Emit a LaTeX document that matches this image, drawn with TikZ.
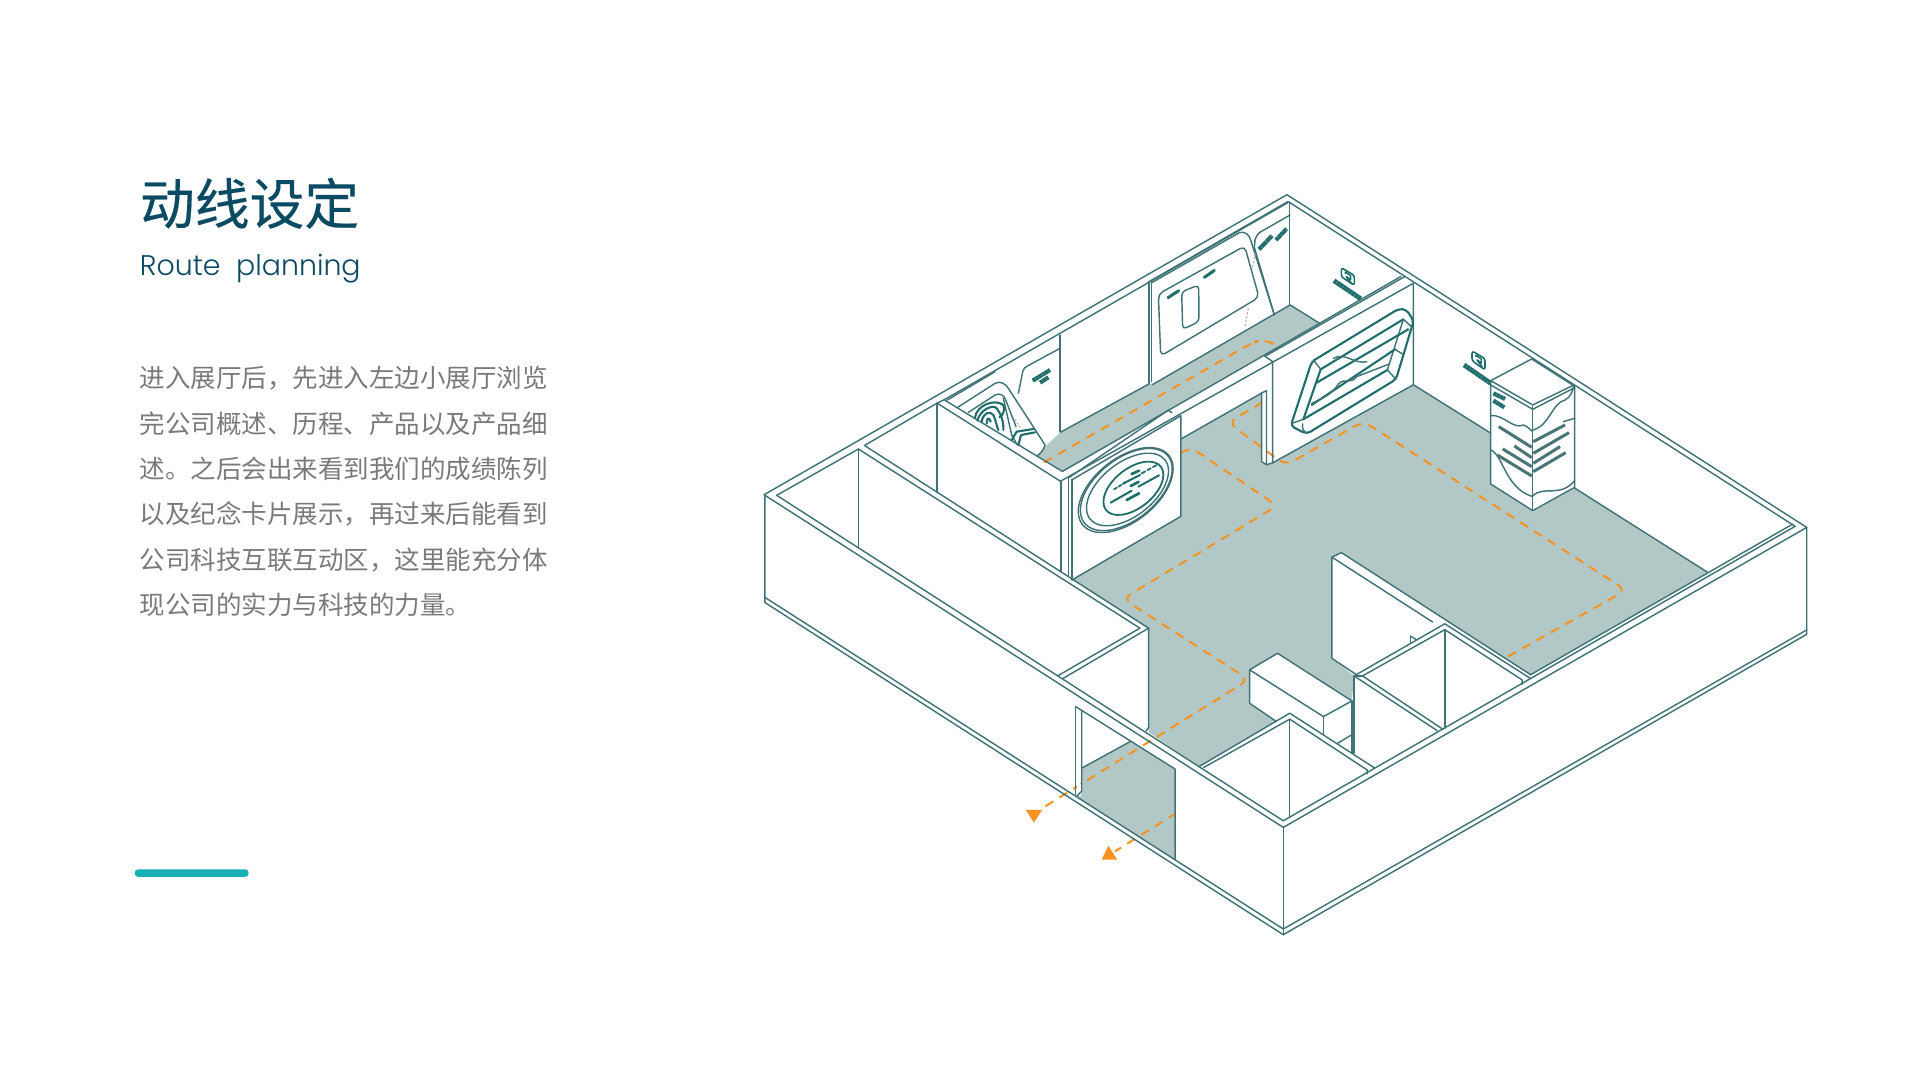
\documentclass[tikz,border=0pt]{standalone}
\usepackage{fontspec}
\setmainfont{Liberation Sans}
\newfontfamily\cjk{Noto Sans CJK SC}
\newfontfamily\cjkb[FakeBold=0.35]{Noto Sans CJK SC}
\newfontfamily\latn{Poppins Light}
\definecolor{wallc}{HTML}{3F7376}
\definecolor{markc}{HTML}{1F6E6C}
\definecolor{floorc}{HTML}{B2C8C7}
\definecolor{routec}{HTML}{F7931E}
\definecolor{titlec}{HTML}{0B4A63}
\definecolor{bodyc}{HTML}{7A7A7A}
\definecolor{barc}{HTML}{17B1B3}
\tikzset{
 wall/.style={draw=wallc,line width=.72pt,line join=round,line cap=round},
 heavy/.style={draw=markc,line width=1.05pt,line join=round,line cap=round},
 blob/.style={draw=markc,line width=2.1pt,dash pattern=on 1.6pt off .22pt},
 bar/.style={draw=markc,line width=1.5pt,line cap=round},
 chev/.style={draw=wallc!85!gray,line width=1.5pt},
 dots/.style={draw=gray!70,line width=.5pt,dash pattern=on 1pt off 1pt},
 floorp/.style={fill=floorc,draw=none},
 route/.style={draw=routec,line width=1pt,dash pattern=on 4.6pt off 3.6pt,rounded corners=4.5pt},
 tip/.style={fill=routec,draw=none},
 bodyline/.style={anchor=west,inner sep=0pt,text=bodyc,font=\cjk\fontsize{12.75}{13}\selectfont},
}
\begin{document}
\begin{tikzpicture}[x=.61224pt,y=-.61224pt]
\useasboundingbox (0,0) rectangle (1568,888.5);
\fill[white] (0,0) rectangle (1568,888.5);
% ---- text
\node[anchor=west,inner sep=0pt,text=titlec,font=\cjkb\fontsize{27.4}{28}\selectfont] (title) at (114,166) {动线设定};
\node[anchor=west,inner sep=0pt,text=titlec,font=\latn\fontsize{14.2}{16}\selectfont] (subtitle) at (114,219.5) {Route\ \ planning};
\node[bodyline] (l1) at (114,309) {进入展厅后，先进入左边小展厅浏览};
\node[bodyline] (l2) at (114,346) {完公司概述、历程、产品以及产品细};
\node[bodyline] (l3) at (114,383) {述。之后会出来看到我们的成绩陈列};
\node[bodyline] (l4) at (114,420) {以及纪念卡片展示，再过来后能看到};
\node[bodyline] (l5) at (114,457) {公司科技互联互动区，这里能充分体};
\node[bodyline] (l6) at (114,494) {现公司的实力与科技的力量。};
\fill[barc,rounded corners=1.6pt] (110,710) rectangle (203,716);
% ---- floors
\path[floorp] (964.3,358.6)--(1030.3,321)--(1030.3,378)--(1034.3,379.5)--(1039.3,378)--(1154.3,314.2)--(1217.4,353.7)--(1217.4,395.8)--(1251.8,417.6)--(1286,398.6)--(1394.6,467.4)--(1250,551)--(1095.5,451.3)--(1087.7,455)--(1087.7,537.6)--(1105.8,552)--(1104,572.4)--(1043.3,533.5)--(1020.5,547)--(1020.5,574.3)--(1042.4,589.2)--(979.3,626)--(938,598)--(938,513)--(875.5,473.6)--(964.3,421.7)--cycle;
\path[floorp] (883.4,627.3)--(923,605.6)--(959.6,628)--(959.6,702)--(879.3,650.4)--(883.4,648)--cycle;
\path[floorp] (846.6,372.4)--(853.4,364.8)--(866,353)--(938.6,313.4)--(941,314.2)--(1053.6,249)--(1077.6,264)--(867.6,385)--cycle;
% ---- route
\draw[route] (852.6,377.6)--(1021,280.8)--(1031,277)--(1044,282.4);
\draw[route] (1231.4,536.2)--(1328,482)--(1113.5,344)--(1050,380)--(1003,345)--(1030.3,329);
\draw[route] (964.3,370)--(972,365)--(1043,413)--(917,489)--(1020,555)--(851.2,660);
\draw[route,dash phase=1pt] (959.6,664.6)--(910.5,695.3);
\fill[white] (879.2,640) rectangle (883,650);
\path[tip] (837.7,661.3)--(851.2,661.3)--(844.3,671.7)--cycle;
\path[tip] (905.2,690.7)--(899.6,702.1)--(912.4,702.1)--cycle;
% ---- shell
\draw[wall] (624,404)--(1051,159)--(1475.5,430.7)--(1048,675.7)--cycle;
\draw[wall] (624.6,404)--(624.6,492)--(1048,763.3)--(1475.5,518)--(1475.5,430.7);
\draw[wall] (624.6,487.8)--(1048,758.7)--(1475.5,514.4);
\draw[wall] (1048,675.7)--(1048,763.3);
\draw[wall] (634.3,404.5)--(701,366.7);
\draw[wall] (634.3,404.5)--(1048,670.3)--(1466,429.8)--(1052.6,165)--(771,326.5);
\draw[wall] (1250,551)--(1464,428);
% ---- left chamber partition
\draw[wall] (701,366.7)--(701,447.3);
\draw[wall] (701,366.7)--(930.9,513)--(863.7,552);
\draw[wall] (706,363.8)--(938,513)--(868.4,553.9);
\draw[wall] (706,363.8)--(765.3,329.2)--(771,326.5);
\draw[wall] (765.3,329.2)--(765.3,402);
\draw[wall] (765.3,329.2)--(866,393);
\draw[wall] (771,326.5)--(867.6,385);
\draw[wall] (938,513)--(938,594)--(936,597);
% ---- long partition
\draw[wall] (867.6,385)--(1144,225.8);
\draw[wall] (866,393)--(1154.3,231.3);
\draw[wall] (1033,291)--(1039,295);
\draw[wall] (1033,291)--(1147,226);
\draw[wall] (866.3,393)--(866.3,466.5);
\draw[wall] (872.6,390)--(872.6,470.8);
\draw[wall] (875.5,391.5)--(875.5,473.6);
\draw[wall] (873,390)--(954,335)--(957,337);
\draw[wall] (875.5,391.8)--(964.3,339.5)--(964.3,421.7)--(875.5,473.6);
\draw[wall] (964.3,358.6)--(1030.3,321)--(1034.3,319)--(1034.3,379.5);
\draw[wall] (1030.3,321)--(1030.3,377)--(1034.3,379.5)--(1039.3,378);
\draw[wall] (1039.3,295.2)--(1039.3,378)--(1154.3,314.2)--(1154.3,231.3);
\draw[wall] (1154.3,314.2)--(1217.4,353.7);
\draw[wall] (1286,398.6)--(1394.6,467.4);
% ---- back hall walls
\draw[wall] (866,353)--(938.6,313.4);
\draw[wall] (941,314.2)--(1053.6,249)--(1077.6,264);
\draw[wall] (1053.3,165)--(1053.3,249);
% ---- door
\draw[wall] (878.4,577)--(959.6,628)--(959.6,702);
\draw[wall] (878.4,577)--(878.4,650);
\draw[wall] (883.4,580)--(883.4,646)--(879.3,650.4);
\draw[wall] (883.4,627.3)--(923,605.6);
% ---- right partition and rooms
\draw[wall] (1087.7,455)--(1095.5,451.3)--(1250,551);
\draw[wall] (1087.7,455)--(1087.7,537.6)--(1108,551.2);
\draw[wall] (1087.7,455)--(1170,508);
\draw[wall] (1105.8,552)--(1179.9,509.4)--(1249.6,553.9);
\draw[wall] (1112.7,552)--(1179.9,514.2)--(1243,555.2)--(1243,559);
\draw[wall] (1105.8,552)--(1112.7,552);
\draw[wall] (1105.8,552)--(1173.6,596.6);
\draw[wall] (1112.7,552)--(1178.3,595.5);
\draw[wall] (1179.9,514.2)--(1179.9,594.5);
\draw[wall] (1105.8,552)--(1105.8,615);
\draw[wall] (1151.8,519.5)--(1151.8,525.3);
\draw[wall] (1151.8,519.5)--(1157,522.6);
% ---- front room
\draw[wall] (979.3,626)--(1053.3,582.4)--(1122.7,627.3);
\draw[wall] (983,626.8)--(1053.3,587.3)--(1116.4,628.7)--(1116.4,632);
\draw[wall] (1053.3,587.3)--(1053.3,666.8);
% ---- box
\draw[wall] (1042.4,589.2)--(1020.5,574.3)--(1020.5,547)--(1043.3,533.5)--(1104,572.4)--(1080.8,585.2)--(1020.5,547);
\draw[wall] (1080.8,585.2)--(1080.8,600);
\draw[wall] (1104,572.4)--(1104,615);
\draw[wall] (1092.4,607)--(1104,600);
% ---- oval plaque
\begin{scope}[shift={(919.3,400.2)},yslant=.45]
 \draw[wall] (0,0) ellipse (38.7 and 30);
 \draw[wall] (.5,-.2) ellipse (37.5 and 29);
 \draw[wall] (1.5,.2) ellipse (33.5 and 25.5);
 \draw[heavy,line width=.9pt] (6.3,1.4) ellipse (24.5 and 18.8);
\end{scope}
\begin{scope}[shift={(767.7,269.5)},scale=.2722]
 \draw[bar,line width=1pt] (512,518)--(575,482);
 \draw[bar,line width=1pt] (595,470)--(657,436);
 \draw[bar,line width=.9pt,dash pattern=on 1.6pt off 1pt] (522,478)--(560,455);
 \draw[bar,line width=1pt] (550,460)--(600,435);
 \draw[bar,line width=.9pt,dash pattern=on 2pt off 1.2pt] (605,430)--(650,405);
 \draw[bar,line width=1.4pt,dash pattern=on 1.2pt off .4pt] (575,432)--(597,422);
 \draw[bar,line width=1.4pt,dash pattern=on 1.2pt off .4pt] (572,468)--(597,455);
 \draw[bar,line width=1.4pt,dash pattern=on 1.2pt off .4pt] (560,510)--(597,490);
 % left hall device
 \draw[wall] (360,15)--(360,305);
 \draw[wall] (22,210)--(165,125);
 \draw[wall] (235,190)--(248,125)..controls (250,115) and (255,112)..(262,108)--(360,55);
 \draw[wall] (53,232)--(165,160)..controls (180,152) and (195,160)..(205,175)--(315,345)..controls (310,362) and (300,372)..(290,378);
 \draw[wall] (85,247)--(165,195)..controls (180,188) and (192,195)..(197,210)--(228,290);
 \draw[wall] (190,205)--(215,315)--(232,345);
 \draw[heavy] (105,262)..controls (110,225) and (165,205)..(190,225)..controls (195,240) and (190,255)..(178,262);
 \draw[heavy] (112,272)..controls (120,238) and (160,222)..(170,235)..controls (190,262) and (190,285)..(190,300);
 \draw[heavy] (125,275)..controls (128,250) and (150,240)..(160,255)..controls (168,272) and (170,290)..(175,300);
 \draw[heavy] (140,280)..controls (140,262) and (148,262)..(152,275);
 \draw[heavy] (215,330)--(230,305)--(280,297);
 \draw[heavy] (235,345)--(243,315)--(285,307);
 \draw[dots] (225,268)--(240,292);
 \draw[blob] (278,152)--(330,120);
 \draw[blob] (300,158)--(325,142);
\end{scope}
% ---- hall screen
\begin{scope}[shift={(931,155.2)},scale=.2722]
 \draw[wall] (27,275)--(27,580);
 \draw[wall] (35,275)--(35,575);
 \draw[wall] (27,275)--(443,35);
 \draw[wall] (35,278)--(298,128)..controls (315,122) and (328,135)..(332,150)--(403,375);
 \draw[wall] (345,150)..controls (350,135) and (355,128)..(368,122)--(450,75);
 \draw[wall] (345,150)--(343,172)--(403,375);
 \draw[wall,rounded corners=2.5pt] (55,312)--(314,168)--(357,322)--(62,498)--cycle;
 \draw[wall,rounded corners=2pt] (125,305)--(176,285)--(177,395)--(128,418)--cycle;
 \draw[bar] (84,323)--(116,302);
 \draw[bar] (193,262)--(223,241);
 \draw[dots] (346,190)--(336,240);
 \draw[dots] (325,355)--(314,415);
 \draw[blob] (357,178)--(396,137);
 \draw[blob] (408,150)--(440,116);
 % logo 1
 \draw[heavy,line width=.8pt,rounded corners=1.2pt] (604,233)--(643,256)--(643,286)--(604,260)--cycle;
 \draw[heavy,line width=.8pt] (616,250)--(616,246)--(632,257)--(632,269)--(619,260)--(634,280);
 \draw[blob,line width=2.4pt] (582,272)--(662,326);
\end{scope}
% ---- right frame, cabinet, logo 2
\begin{scope}[shift={(1037.2,236.8)},scale=.2722]
 \draw[heavy,rounded corners=2pt] (125,215)--(385,57)--(408,58)--(431,92)--(378,268)--(110,432)--(62,408)--cycle;
 \draw[wall] (98,402)..controls (95,415) and (100,425)..(112,430);
 \draw[heavy] (152,238)--(400,88);
 \draw[wall] (400,88)--(426,112);
 \draw[wall] (130,210)--(152,238);
 \draw[heavy] (152,238)--(100,388);
 \draw[wall] (100,388)--(66,400);
 \draw[heavy] (100,388)--(352,240);
 \draw[wall] (352,240)--(378,268);
 \draw[wall] (352,240)--(400,88);
 \draw[heavy] (140,278)--(415,118);
 \draw[heavy] (125,345)--(375,178);
 \draw[wall] (375,178)--(397,192);
 \draw[wall] (190,205)..controls (225,185) and (255,225)..(290,215);
 \draw[wall] (125,340)..controls (175,318) and (190,305)..(205,282)..controls (225,262) and (240,285)..(260,260)--(358,222);
 % logo 2
 \draw[heavy,line width=.8pt,rounded corners=1.2pt] (606,183)--(645,206)--(645,240)--(606,212)--cycle;
 \draw[heavy,line width=.8pt] (618,200)--(618,196)--(634,207)--(634,219)--(621,210)--(636,230);
 \draw[blob,line width=2.4pt] (582,225)--(662,280);
 % cabinet
 \draw[wall] (662,272)--(785,207)--(912,288);
 \draw[wall] (662,272)--(788,345)--(912,285);
 \draw[wall] (662,285)--(788,358)--(914,293);
 \draw[wall] (662,272)--(662,582)--(788,662)--(914,592)--(914,290);
 \draw[wall] (788,350)--(788,662);
 \draw[wall] (880,395)--(914,385);
 \draw[chev] (686,410)--(785,472);
 \draw[chev] (733,468)--(785,503);
 \draw[chev] (698,477)--(785,530);
 \draw[chev] (682,495)--(785,558);
 \draw[chev] (790,455)--(885,405);
 \draw[chev] (790,490)--(897,428);
 \draw[chev] (790,520)--(870,470);
 \draw[chev] (790,545)--(887,488);
 \draw[wall] (662,377)..controls (700,372) and (730,420)..(760,405)..controls (770,408) and (780,418)..(788,425);
 \draw[wall] (790,420)..controls (840,405) and (845,340)..(885,330)..controls (900,322) and (905,310)..(912,288);
 \draw[wall] (662,480)..controls (700,495) and (705,595)..(788,620);
 \draw[wall] (788,618)..controls (820,585) and (870,625)..(914,572);
 \draw[blob] (670,310)--(705,327);
 \draw[blob] (670,332)--(703,352);
\end{scope}
\end{tikzpicture}
\end{document}
